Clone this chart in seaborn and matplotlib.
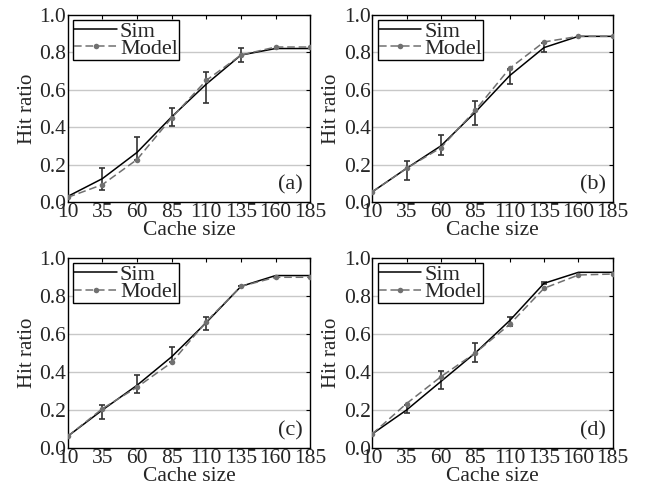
import matplotlib
matplotlib.use("Agg")
import matplotlib.pyplot as plt
import seaborn as sns
import numpy as np
import pandas as pd

cache = [10, 35, 60, 85, 110, 135, 160, 185]
panels = ["(a)", "(b)", "(c)", "(d)"]

sim_a = [0.03, 0.125, 0.265, 0.455, 0.63, 0.785, 0.82, 0.82]
model_a = [0.025, 0.093, 0.227, 0.45, 0.65, 0.785, 0.828, 0.828]
err_lo_a = [0.03, 0.066, 0.227, 0.405, 0.527, 0.75, 0.82, 0.82]
err_hi_a = [0.03, 0.18, 0.35, 0.50, 0.695, 0.825, 0.82, 0.82]

sim_b = [0.054, 0.18, 0.30, 0.48, 0.675, 0.825, 0.885, 0.885]
model_b = [0.054, 0.18, 0.29, 0.49, 0.714, 0.855, 0.885, 0.885]
err_lo_b = [0.054, 0.12, 0.25, 0.41, 0.63, 0.80, 0.885, 0.885]
err_hi_b = [0.054, 0.22, 0.357, 0.54, 0.71, 0.85, 0.885, 0.885]

sim_c = [0.062, 0.20, 0.33, 0.48, 0.66, 0.85, 0.907, 0.907]
model_c = [0.062, 0.207, 0.32, 0.45, 0.665, 0.85, 0.898, 0.898]
err_lo_c = [0.062, 0.155, 0.29, 0.45, 0.62, 0.85, 0.907, 0.907]
err_hi_c = [0.062, 0.225, 0.384, 0.533, 0.69, 0.85, 0.907, 0.907]

sim_d = [0.074, 0.20, 0.35, 0.50, 0.67, 0.866, 0.924, 0.924]
model_d = [0.074, 0.234, 0.375, 0.50, 0.65, 0.84, 0.91, 0.915]
err_lo_d = [0.074, 0.185, 0.31, 0.455, 0.64, 0.86, 0.924, 0.924]
err_hi_d = [0.074, 0.225, 0.405, 0.555, 0.69, 0.875, 0.924, 0.924]

sims = [sim_a, sim_b, sim_c, sim_d]
models = [model_a, model_b, model_c, model_d]
err_los = [err_lo_a, err_lo_b, err_lo_c, err_lo_d]
err_his = [err_hi_a, err_hi_b, err_hi_c, err_hi_d]

sns.set_style("white")
plt.rcParams['font.family'] = ['Liberation Serif', 'DejaVu Serif']

fig = plt.figure(figsize=(6.45, 4.94), dpi=100)
positions = [
    [0.105, 0.591, 0.376, 0.379],
    [0.577, 0.591, 0.373, 0.379],
    [0.105, 0.093, 0.376, 0.385],
    [0.577, 0.093, 0.373, 0.385],
]

for i in range(4):
    ax = fig.add_axes(positions[i])
    for y in [0.2, 0.4, 0.6, 0.8]:
        ax.axhline(y, color="#c8c8c8", lw=1.0, zorder=0)
    sim = np.array(sims[i])
    lo = np.array(err_los[i])
    hi = np.array(err_his[i])
    ax.errorbar(cache[1:6], sim[1:6], yerr=[sim[1:6] - lo[1:6], hi[1:6] - sim[1:6]],
                fmt="none", ecolor="#333333", elinewidth=1.2, capsize=2.5, capthick=1.2, zorder=3)
    sns.lineplot(x=cache, y=sims[i], color="black", linewidth=1.1, label="Sim", ax=ax, zorder=4)
    sns.lineplot(x=cache, y=models[i], color="#707070", linewidth=1.1, linestyle=(0, (5, 2.5)),
                 marker="o", markersize=4, markeredgewidth=0, label="Model", ax=ax, zorder=5)
    ax.set_xlim(10, 185)
    ax.set_ylim(0, 1.0)
    ax.set_xticks(cache)
    ax.set_yticks([0.0, 0.2, 0.4, 0.6, 0.8, 1.0])
    ax.set_yticklabels(["0.0", "0.2", "0.4", "0.6", "0.8", "1.0"])
    ax.tick_params(direction="in", top=True, right=True, length=3, labelsize=15.5, pad=1, color="black")
    for s in ax.spines.values():
        s.set_color("black")
        s.set_linewidth(1.0)
    ax.set_xlabel("Cache size", fontsize=15.5, labelpad=-1)
    ax.set_ylabel("Hit ratio", fontsize=15, labelpad=2)
    leg = ax.legend(loc="upper left", fontsize=16, frameon=True, fancybox=False,
                    borderpad=0.05, labelspacing=-0.15, handlelength=1.9, handletextpad=0.15,
                    borderaxespad=0.25)
    leg.get_frame().set_edgecolor("black")
    leg.get_frame().set_linewidth(1.0)
    leg.get_frame().set_alpha(1.0)
    ax.text(0.97, 0.04, panels[i], transform=ax.transAxes, ha="right", va="bottom", fontsize=16)

fig.savefig("out.png", dpi=100)
